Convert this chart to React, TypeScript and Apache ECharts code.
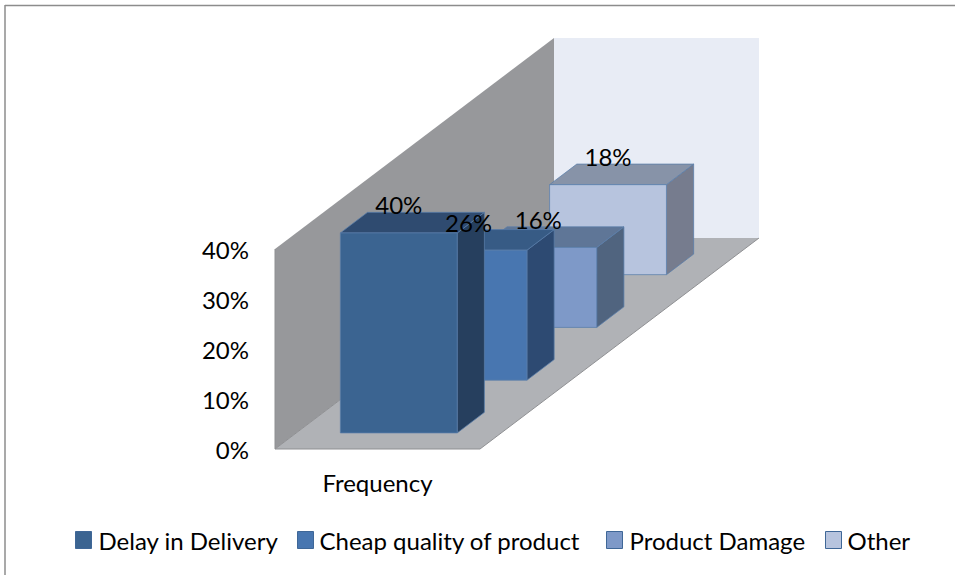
import React, { useEffect, useRef } from "react";
import * as echarts from "echarts";

const categories = ["Frequency"];
const seriesNames = ["Delay in Delivery", "Cheap quality of product", "Product Damage", "Other"];
const seriesValues = [40, 26, 16, 18];
const axisMax = 40;
const frontColors = ["#3b6491", "#4876b0", "#7e99c8", "#b7c4de"];
const topColors = ["#2f4b70", "#375b85", "#5f7697", "#8793a8"];
const sideColors = ["#263f5e", "#2d4a72", "#50647f", "#767c8e"];
const legendLefts = [75, 297, 606, 825];
const legendTextPads = [2, 1, 2, 1];

const FONT = "Lato";
const FONT_SIZE = 24;
const DEPTH_X = 279;
const DEPTH_Y = 211;
const BAR_RATIO = 0.57;
const BAR_DEPTH = 0.39;

const poly = (points: number[][], fill: string, stroke: string, z2: number) => ({
  type: "polygon",
  shape: { points },
  style: { fill, stroke, lineWidth: stroke === "none" ? 0 : 1 },
  z2,
});

const renderWalls = (_p: any, api: any) => {
  const o = api.coord([0, 0]);
  const t = api.coord([0, axisMax]);
  const w = api.size([1, 0])[0];
  const x0 = o[0] - w / 2;
  const y0 = o[1];
  const yt = t[1];
  const x1 = x0 + w;
  return {
    type: "group",
    children: [
      poly([[x0 + DEPTH_X, yt - DEPTH_Y], [x1 + DEPTH_X, yt - DEPTH_Y], [x1 + DEPTH_X, y0 - DEPTH_Y], [x0 + DEPTH_X, y0 - DEPTH_Y]], "#e8ecf5", "none", 1),
      poly([[x0, y0], [x1, y0], [x1 + DEPTH_X, y0 - DEPTH_Y], [x0 + DEPTH_X, y0 - DEPTH_Y]], "#b0b2b6", "none", 2),
      poly([[x0, yt], [x0 + DEPTH_X, yt - DEPTH_Y], [x0 + DEPTH_X, y0 - DEPTH_Y], [x0, y0]], "#97989b", "none", 3),
      { type: "polyline", shape: { points: [[x0 + DEPTH_X, y0 - DEPTH_Y], [x0, y0], [x1, y0], [x1 + DEPTH_X, y0 - DEPTH_Y]] }, style: { fill: "none", stroke: "#8f9093", lineWidth: 1 }, z2: 4 },
      { type: "line", shape: { x1: x0, y1: yt, x2: x0, y2: y0 }, style: { stroke: "#8f9093", lineWidth: 1 }, z2: 4 },
    ],
  };
};

const renderBar = (i: number) => (_p: any, api: any) => {
  const base = api.coord([0, 0]);
  const top = api.coord([0, api.value(1)]);
  const band = api.size([1, 0])[0];
  const barW = band * BAR_RATIO;
  const slotX = DEPTH_X / seriesNames.length;
  const slotY = DEPTH_Y / seriesNames.length;
  const dx = slotX * BAR_DEPTH;
  const dy = slotY * BAR_DEPTH;
  const offs = i + (1 - BAR_DEPTH) / 2;
  const x0 = base[0] - barW / 2 + slotX * offs;
  const x1 = x0 + barW;
  const yb = base[1] - slotY * offs;
  const yt = top[1] - slotY * offs;
  const z = 40 - i * 10;
  const edge = "rgba(90,125,170,0.75)";
  return {
    type: "group",
    children: [
      poly([[x1, yt], [x1 + dx, yt - dy], [x1 + dx, yb - dy], [x1, yb]], sideColors[i], edge, z),
      poly([[x0, yt], [x0 + dx, yt - dy], [x1 + dx, yt - dy], [x1, yt]], topColors[i], edge, z),
      poly([[x0, yt], [x1, yt], [x1, yb], [x0, yb]], frontColors[i], edge, z + 1),
      {
        type: "text",
        x: (x0 + x1) / 2,
        y: yt - dy - 7.5,
        style: { text: `${api.value(1)}%`, fill: "#000", font: `${FONT_SIZE}px ${FONT}`, align: "center", verticalAlign: "middle" },
        z2: 100,
      },
    ],
  };
};

export default function App() {
  const ref = useRef<HTMLDivElement>(null);
  useEffect(() => {
    const chart = echarts.init(ref.current!, undefined, { renderer: "svg" });
    chart.setOption({
      animation: false,
      backgroundColor: "#fff",
      grid: { left: 275, top: 249, width: 205, height: 200 },
      xAxis: {
        type: "category",
        data: categories,
        axisLine: { show: false },
        axisTick: { show: false },
        axisLabel: { color: "#000", fontFamily: FONT, fontSize: FONT_SIZE, margin: 21 },
      },
      yAxis: {
        type: "value",
        min: 0,
        max: axisMax,
        interval: 10,
        axisLine: { show: false },
        axisTick: { show: false },
        splitLine: { show: false },
        axisLabel: { formatter: "{value}%", color: "#000", fontFamily: FONT, fontSize: FONT_SIZE, margin: 26, padding: [3, 0, 0, 0] },
      },
      legend: seriesNames.map((name, i) => ({
        left: legendLefts[i],
        top: 528,
        padding: 0,
        itemWidth: 16,
        itemHeight: 17,
        selectedMode: false,
        textStyle: { color: "#000", fontFamily: FONT, fontSize: FONT_SIZE, padding: [0, 0, 0, legendTextPads[i]] },
        data: [{ name, icon: "rect", itemStyle: { color: frontColors[i], borderColor: "#3f6797", borderWidth: 1 } }],
      })),
      graphic: [
        { type: "line", shape: { x1: 5, y1: 5.5, x2: 955, y2: 5.5 }, style: { stroke: "#8c8c8c", lineWidth: 1.5 } },
        { type: "line", shape: { x1: 5, y1: 5, x2: 5, y2: 575 }, style: { stroke: "#8c8c8c", lineWidth: 1.5 } },
      ],
      series: [
        { type: "custom", name: "walls", renderItem: renderWalls, data: [[0, axisMax]], encode: { x: 0, y: 1 }, silent: true },
        ...seriesNames.map((name, i) => ({
          type: "custom",
          name,
          renderItem: renderBar(i),
          itemStyle: { color: frontColors[i] },
          data: [[0, seriesValues[i]]],
          encode: { x: 0, y: 1 },
        })),
      ],
    });
    return () => chart.dispose();
  }, []);
  return <div ref={ref} style={{ position: "absolute", left: 0, top: 0, width: 955, height: 575 }} />;
}
